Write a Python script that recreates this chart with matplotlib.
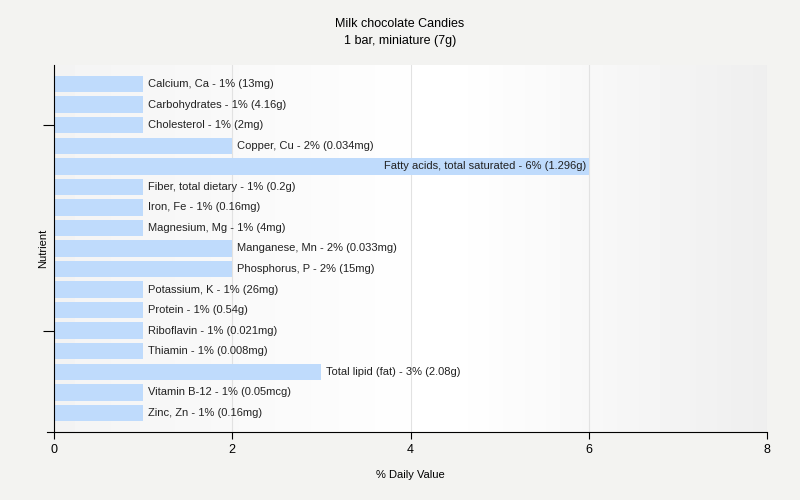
import numpy as np
import matplotlib.pyplot as plt

nutrients = [
    "Calcium, Ca", "Carbohydrates", "Cholesterol", "Copper, Cu",
    "Fatty acids, total saturated", "Fiber, total dietary", "Iron, Fe",
    "Magnesium, Mg", "Manganese, Mn", "Phosphorus, P", "Potassium, K",
    "Protein", "Riboflavin", "Thiamin", "Total lipid (fat)",
    "Vitamin B-12", "Zinc, Zn",
]
daily_pct = [1, 1, 1, 2, 6, 1, 1, 1, 2, 2, 1, 1, 1, 1, 3, 1, 1]
amounts = [
    "13mg", "4.16g", "2mg", "0.034mg", "1.296g", "0.2g", "0.16mg", "4mg",
    "0.033mg", "15mg", "26mg", "0.54g", "0.021mg", "0.008mg", "2.08g",
    "0.05mcg", "0.16mg",
]

plt.rcParams['font.family'] = ['Liberation Sans', 'DejaVu Sans']

fig = plt.figure(figsize=(8, 5), dpi=100, facecolor='#f3f3f1')
ax = fig.add_axes([54 / 800, 1 - 432 / 500, 713 / 800, 367 / 500])

# soft horizontal gradient behind the bars
grad = np.concatenate([np.linspace(0.955, 1.0, 55), np.linspace(1.0, 0.935, 45)])
ax.imshow(np.tile(grad, (2, 1)), cmap='gray', vmin=0, vmax=1, aspect='auto',
          extent=[0, 8, 16.93, -0.93], zorder=0)

y = np.arange(len(nutrients))
ax.barh(y, daily_pct, height=0.8, color='#bfdbfc', zorder=2)
for yi, v, name, amt in zip(y, daily_pct, nutrients, amounts):
    label = f"{name} - {v}% ({amt})"
    if v >= 5:
        # long bars get the label inside, flush right
        ax.text(v - 0.03, yi, label, va='center', ha='right',
                fontsize=8, color='#222222', zorder=3)
    else:
        ax.text(v + 0.05, yi, label, va='center', ha='left',
                fontsize=8, color='#222222', zorder=3)

ax.set_xlim(0, 8)
ax.set_ylim(16.93, -0.93)
ax.set_xticks([0, 2, 4, 6, 8])
ax.set_yticks([2, 12])
ax.set_yticklabels([])
ax.grid(axis='x', color='#e2e2e2', linewidth=0.8, zorder=1)
ax.set_axisbelow(True)
for side in ['top', 'right']:
    ax.spines[side].set_visible(False)
ax.spines['left'].set_color('black')
ax.spines['bottom'].set_color('black')
ax.spines['bottom'].set_bounds(-0.08, 8)
ax.tick_params(axis='x', labelsize=9, length=5, color='black')
ax.tick_params(axis='y', length=8, color='black')

ax.set_xlabel('% Daily Value', fontsize=8, labelpad=10)
ax.set_ylabel('Nutrient', fontsize=8)
ax.yaxis.set_label_coords(-0.008, 0.5)
fig.text(0.5, 1 - 24 / 500, 'Milk chocolate Candies', ha='center', va='center', fontsize=9)
fig.text(0.5, 1 - 41 / 500, '1 bar, miniature (7g)', ha='center', va='center', fontsize=9)

plt.savefig('out.png', dpi=100, facecolor=fig.get_facecolor())
